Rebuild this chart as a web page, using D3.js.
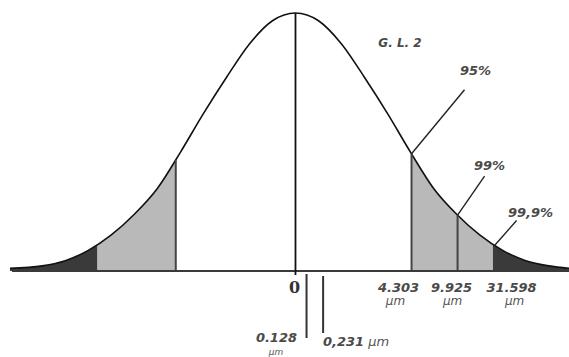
<!DOCTYPE html>
<html>
<head>
<meta charset="utf-8">
<script src="https://cdn.jsdelivr.net/npm/d3@7"></script>
<style>
  body { margin: 0; background: #fff; }
  svg { display: block; }
  .lbl { font-family: "DejaVu Sans", sans-serif; font-weight: bold; font-style: italic; fill: #4a4a4a; }
  .unit { font-family: "DejaVu Sans", sans-serif; font-style: italic; fill: #555; }
</style>
</head>
<body>
<div id="chart"></div>
<script>
// bell curve: position (in sigma units) and height relative to the peak
const curveZ = [-3.1, -2.75, -2.5, -2.25, -2, -1.75, -1.5, -1.25, -1, -0.75, -0.5, -0.25, 0,
                0.25, 0.5, 0.75, 1, 1.25, 1.5, 1.75, 2, 2.25, 2.5, 2.75, 3.0];
const curveH = [0.01, 0.02, 0.04, 0.08, 0.14, 0.22, 0.32, 0.46, 0.61, 0.75, 0.88, 0.97, 1,
                0.97, 0.88, 0.75, 0.61, 0.46, 0.32, 0.22, 0.14, 0.08, 0.04, 0.02, 0.01];

// shaded tails
const darkRegions = [[-3.1, -2.15], [2.14, 3.0]];
const lightRegions = [[-2.15, -1.30], [1.26, 2.14]];
const boundaryLines = [-1.30, 1.26, 1.76];

// critical values (right tail)
const critZ = [1.26, 1.76, 2.14];
const critLabels = ["4.303", "9.925", "31.598"];
const confLabels = ["95%", "99%", "99,9%"];

// marks under the zero
const markZ = [0.12, 0.30];
const markLabels = ["0.128", "0,231 µm"];
const dfLabel = "G. L. 2";

const width = 569, height = 357;
const svg = d3.select("#chart").append("svg")
    .attr("width", width).attr("height", height);

const x = d3.scaleLinear().domain([-3.1, 2.97]).range([10, 569]);
const y = d3.scaleLinear().domain([0, 1]).range([271, 13]);

const pts = curveZ.map((z, i) => [z, curveH[i]]);

// clip paths for each shaded band
const defs = svg.append("defs");
function band(id, r) {
    defs.append("clipPath").attr("id", id)
        .append("rect")
        .attr("x", x(r[0])).attr("y", 0)
        .attr("width", x(r[1]) - x(r[0])).attr("height", y(0));
}
const area = d3.area()
    .x(d => x(d[0])).y0(y(0)).y1(d => y(d[1]))
    .curve(d3.curveMonotoneX);

darkRegions.forEach((r, i) => {
    band("dk" + i, r);
    svg.append("path").attr("d", area(pts))
        .attr("fill", "#3a3a3a").attr("clip-path", `url(#dk${i})`);
});
lightRegions.forEach((r, i) => {
    band("lt" + i, r);
    svg.append("path").attr("d", area(pts))
        .attr("fill", "#b9b9b9").attr("clip-path", `url(#lt${i})`);
});

// curve height at a given z
const probe = svg.append("path")
    .attr("d", d3.line().x(d => x(d[0])).y(d => y(d[1])).curve(d3.curveMonotoneX)(pts))
    .attr("fill", "none").attr("stroke", "#111").attr("stroke-width", 1.6);
const node = probe.node();
const len = node.getTotalLength();
function curveY(px) {
    let lo = 0, hi = len;
    for (let k = 0; k < 40; k++) {
        const mid = (lo + hi) / 2;
        if (node.getPointAtLength(mid).x < px) lo = mid; else hi = mid;
    }
    return node.getPointAtLength(lo).y;
}

// boundary lines
svg.selectAll(".bnd").data(boundaryLines).enter().append("line")
    .attr("x1", d => x(d)).attr("x2", d => x(d))
    .attr("y1", y(0)).attr("y2", d => curveY(x(d)))
    .attr("stroke", "#444").attr("stroke-width", 2);

// baseline
svg.append("line")
    .attr("x1", 12).attr("x2", width).attr("y1", y(0)).attr("y2", y(0))
    .attr("stroke", "#3a3a3a").attr("stroke-width", 2.2);

// centre line
svg.append("line")
    .attr("x1", x(0)).attr("x2", x(0)).attr("y1", y(1)).attr("y2", y(0) + 4)
    .attr("stroke", "#111").attr("stroke-width", 1.8);

svg.append("text")
    .attr("x", x(0) - 1).attr("y", 293).attr("text-anchor", "middle")
    .style("font-family", "'DejaVu Serif', serif").style("font-weight", "bold")
    .style("font-size", "16px").style("fill", "#333")
    .text("0");

// marks under zero
const markLen = [[274, 338], [276, 333]];
svg.selectAll(".mk").data(markZ).enter().append("line")
    .attr("x1", d => x(d)).attr("x2", d => x(d))
    .attr("y1", (d, i) => markLen[i][0]).attr("y2", (d, i) => markLen[i][1])
    .attr("stroke", "#333").attr("stroke-width", 2);

svg.append("text").attr("class", "lbl")
    .attr("x", 297).attr("y", 342).attr("text-anchor", "end")
    .style("font-size", "13px").text(markLabels[0]);
svg.append("text").attr("class", "unit")
    .attr("x", 276).attr("y", 355).attr("text-anchor", "middle")
    .style("font-size", "9px").text("µm");
const m2 = svg.append("text").attr("class", "lbl")
    .attr("x", 323).attr("y", 346).style("font-size", "13px");
m2.append("tspan").text(markLabels[1].split(" ")[0]);
m2.append("tspan").attr("class", "unit").style("font-weight", "normal")
    .attr("dx", 4).text(markLabels[1].split(" ")[1]);

// critical value labels
const critDx = [-13, -6, 19];
const unitDx = [-16, -5, 22];
svg.selectAll(".crit").data(critZ).enter().append("text")
    .attr("class", "lbl")
    .attr("x", (d, i) => x(d) + critDx[i]).attr("y", 292)
    .attr("text-anchor", "middle").style("font-size", "13px")
    .text((d, i) => critLabels[i]);
svg.selectAll(".unitc").data(critZ).enter().append("text")
    .attr("class", "unit")
    .attr("x", (d, i) => x(d) + unitDx[i]).attr("y", 305)
    .attr("text-anchor", "middle").style("font-size", "12px")
    .text("µm");

// confidence leaders
const leadEnd = [[53, -64], [27, -39], [22, -25]];
const textOff = [[11, -15], [5, -6], [14, -3]];
critZ.forEach((z, i) => {
    const px = x(z) + (i === 2 ? 2 : 0);
    const py = curveY(px);
    const ex = px + leadEnd[i][0], ey = py + leadEnd[i][1];
    svg.append("line")
        .attr("x1", px).attr("y1", py).attr("x2", ex).attr("y2", ey)
        .attr("stroke", "#222").attr("stroke-width", 1.4);
    svg.append("text").attr("class", "lbl")
        .attr("x", ex + textOff[i][0]).attr("y", ey + textOff[i][1])
        .attr("text-anchor", "middle").style("font-size", "13px")
        .text(confLabels[i]);
});

svg.append("text").attr("class", "lbl")
    .attr("x", 400).attr("y", 47).attr("text-anchor", "middle")
    .style("font-size", "12px").text(dfLabel);
</script>
</body>
</html>
